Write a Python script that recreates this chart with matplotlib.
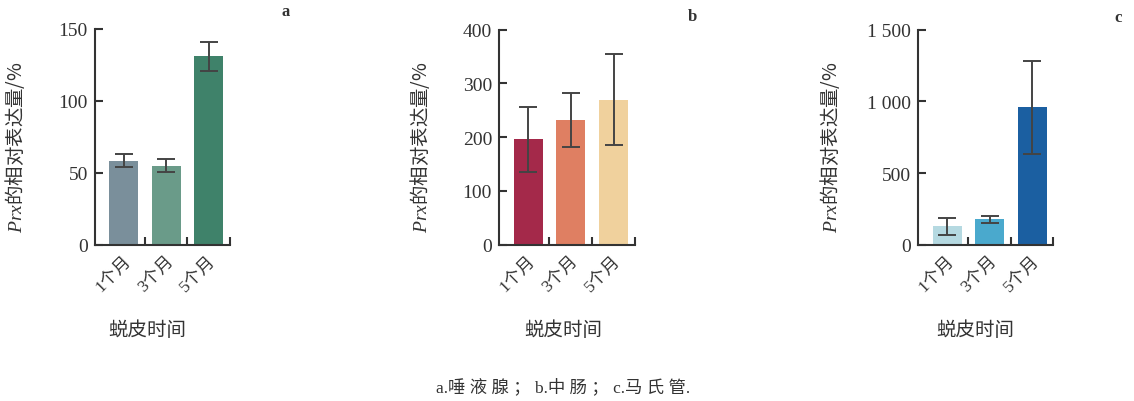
import matplotlib
matplotlib.use("Agg")
import matplotlib.pyplot as plt
from matplotlib.ticker import FixedLocator

# ---- data -------------------------------------------------------------
categories = ["1个月", "3个月", "5个月"]

salivary_mean = [58.5, 55.0, 131.0]
salivary_err = [4.3, 4.4, 10.0]

midgut_mean = [196.0, 232.0, 270.0]
midgut_err = [61.0, 50.0, 84.0]

malpighian_mean = [128.0, 177.0, 960.0]
malpighian_err = [58.0, 23.0, 325.0]

yticks_a = [0, 50, 100, 150]
yticks_b = [0, 100, 200, 300, 400]
yticks_c = [0, 500, 1000, 1500]
yticklabels_c = ["0", "500", "1 000", "1 500"]

panel_letters = ["a", "b", "c"]
xlabel_text = "蜕皮时间"
ylabel_text = r"$\mathit{Prx}$的相对表达量/%"
caption_text = "a.唾 液 腺 ； b.中 肠 ； c.马 氏 管."

colors_a = ["#7a8f9b", "#6a9b89", "#3f826a"]
colors_b = ["#a4294a", "#df7f62", "#f0d19d"]
colors_c = ["#b5d9e1", "#4aa9cd", "#1b5fa1"]

# ---- style ------------------------------------------------------------
plt.rcParams["mathtext.fontset"] = "custom"
plt.rcParams["mathtext.it"] = "Liberation Serif:italic"
plt.rcParams["mathtext.rm"] = "Liberation Serif"

SERIF_CJK = ["Liberation Serif", "Noto Sans CJK SC"]
INK = "#333333"

W, H = 1134, 402
fig = plt.figure(figsize=(W / 100, H / 100), dpi=100)
fig.patch.set_facecolor("white")


def px_axes(left, right, top, bottom):
    return fig.add_axes([left / W, 1 - bottom / H, (right - left) / W, (bottom - top) / H])


def draw_panel(ax, means, errs, colors, ymax, yticks, yticklabels=None):
    x = range(len(categories))
    ax.bar(x, means, width=0.68, color=colors, zorder=2)
    ax.errorbar(x, means, yerr=errs, fmt="none", ecolor="#444444",
                elinewidth=1.4, capsize=6.5, capthick=1.4, zorder=3)
    ax.set_xlim(-0.68, 2.5)
    ax.set_ylim(0, ymax)
    for side in ("top", "right"):
        ax.spines[side].set_visible(False)
    for side in ("left", "bottom"):
        ax.spines[side].set_linewidth(1.5)
        ax.spines[side].set_color(INK)
    ax.set_yticks(yticks)
    ax.set_yticklabels(yticklabels if yticklabels else [str(v) for v in yticks],
                       family="Liberation Serif", fontsize=14, color=INK)
    ax.tick_params(axis="y", direction="in", length=6, width=1.5, color=INK, pad=5)
    # category labels at bar centres, boundary ticks between bars
    ax.set_xticks(list(x))
    ax.set_xticklabels(categories, rotation=45, ha="right", va="top",
                       rotation_mode="anchor", family=SERIF_CJK, fontsize=12.5, color=INK)
    ax.tick_params(axis="x", which="major", length=0, pad=6)
    ax.xaxis.set_minor_locator(FixedLocator([0.5, 1.5, 2.5]))
    ax.tick_params(axis="x", which="minor", direction="in", length=6, width=1.5, color=INK)


ax_a = px_axes(94.7, 230, 30, 245.7)
draw_panel(ax_a, salivary_mean, salivary_err, colors_a, 150, yticks_a)

ax_b = px_axes(499, 635, 30.7, 245.7)
draw_panel(ax_b, midgut_mean, midgut_err, colors_b, 400, yticks_b)

ax_c = px_axes(918.3, 1053.3, 30.7, 245.7)
draw_panel(ax_c, malpighian_mean, malpighian_err, colors_c, 1500, yticks_c, yticklabels_c)

# y labels
for xpx in (15, 420, 830):
    fig.text(xpx / W, 1 - 147 / H, ylabel_text, rotation=90, ha="center", va="center",
             family="Noto Sans CJK SC", fontsize=14, color=INK)

# x labels
for xpx in (147, 563, 975):
    fig.text(xpx / W, 1 - 330 / H, xlabel_text, ha="center", va="center",
             family="Noto Sans CJK SC", fontsize=14, color=INK)

# panel letters
for (xpx, ypx), letter in zip([(286, 11.5), (692, 17), (1118, 17.5)], panel_letters):
    fig.text(xpx / W, 1 - ypx / H, letter, ha="center", va="center",
             family="Liberation Serif", fontweight="bold", fontsize=12, color=INK)

# caption
fig.text(563 / W, 1 - 387 / H, caption_text, ha="center", va="center",
         family=SERIF_CJK, fontsize=12.5, color=INK)

fig.savefig("out.png", dpi=100, facecolor="white")
